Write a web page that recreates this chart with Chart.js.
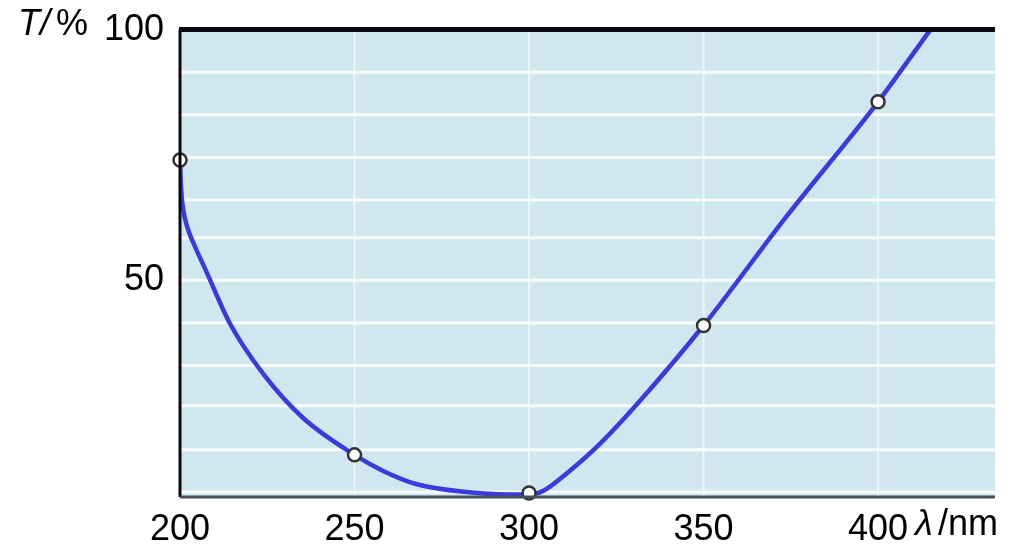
<!DOCTYPE html>
<html>
<head>
<meta charset="utf-8">
<script src="https://cdn.jsdelivr.net/npm/chart.js@4/dist/chart.umd.min.js"></script>
<style>
  html, body { margin: 0; padding: 0; background: #fff; overflow: hidden; }
  canvas { display: block; }
</style>
</head>
<body>
<canvas id="tChart" width="1028" height="547"></canvas>
<script>
// wavelength (nm) and transmittance (%)
const markerX = [200, 250, 300, 350, 400];
const markerT = [74, 15.2, 7.6, 41, 85.6];

// extra points along the drawn curve (no marker)
const curveX = [200, 200.3, 200.9, 202, 204, 207.4, 214.3, 223.8, 235.2, 250, 258.2, 267.6, 282, 294, 300, 304, 310.6, 320.3, 331.8, 350, 373.6, 400, 415];
const curveT = [74, 68.5, 64.2, 60.8, 57.2, 52, 41.4, 31.4, 22.6, 15.2, 12, 9.4, 7.8, 7.3, 7.3, 8, 11.4, 17.4, 26, 41, 62.6, 85.6, 100];

const xTicks = [200, 250, 300, 350, 400];
const yTicks = [50, 100];
// white rulings of the paper behind the plot
const paperLines = [91.5, 83, 74.5, 66, 58.5, 50, 41.5, 33, 25, 16.2, 7.8];

const FONT = "'Liberation Sans', Arial, sans-serif";

const paperPlugin = {
    id: 'paper',
    beforeDatasetsDraw(chart) {
        const { ctx, chartArea: a, scales } = chart;
        ctx.save();
        ctx.fillStyle = '#d1e7f0';
        ctx.fillRect(a.left, a.top, a.right - a.left, a.bottom - a.top);
        ctx.strokeStyle = 'rgba(255,255,255,0.85)';
        ctx.lineWidth = 3;
        paperLines.forEach(v => {
            const y = scales.y.getPixelForValue(v);
            ctx.beginPath(); ctx.moveTo(a.left, y); ctx.lineTo(a.right, y); ctx.stroke();
        });
        ctx.strokeStyle = 'rgba(255,255,255,0.6)';
        ctx.lineWidth = 2;
        xTicks.slice(1).forEach(v => {
            const x = scales.x.getPixelForValue(v);
            ctx.beginPath(); ctx.moveTo(x, a.top); ctx.lineTo(x, a.bottom); ctx.stroke();
        });
        ctx.restore();
    },
    afterDatasetsDraw(chart) {
        const { ctx, chartArea: a } = chart;
        ctx.save();
        // frame: top and left in black, bottom dark grey
        ctx.strokeStyle = '#0a0a14';
        ctx.lineWidth = 5;
        ctx.beginPath(); ctx.moveTo(a.left - 1, a.top); ctx.lineTo(a.right, a.top); ctx.stroke();
        ctx.lineWidth = 3;
        ctx.beginPath(); ctx.moveTo(a.left, a.top); ctx.lineTo(a.left, a.bottom); ctx.stroke();
        ctx.strokeStyle = '#4a4f5e';
        ctx.beginPath(); ctx.moveTo(a.left, a.bottom); ctx.lineTo(a.right, a.bottom); ctx.stroke();
        ctx.restore();
    },
    afterDraw(chart) {
        const { ctx } = chart;
        ctx.save();
        ctx.fillStyle = '#000';
        ctx.textBaseline = 'middle';
        ctx.font = 'italic 36px ' + FONT;
        ctx.fillText('T', 18, 25);
        ctx.fillText('/', 40, 25);
        ctx.font = '36px ' + FONT;
        ctx.fillText('%', 56, 25);
        ctx.font = 'italic 36px ' + FONT;
        ctx.fillText('\u03bb', 915, 525);
        ctx.font = '36px ' + FONT;
        ctx.fillText('/nm', 938, 525);
        ctx.restore();
    }
};

const ctx = document.getElementById('tChart').getContext('2d');
new Chart(ctx, {
    type: 'scatter',
    data: {
        datasets: [{
            data: curveX.map((x, i) => ({ x: x, y: curveT[i] })),
            showLine: true,
            borderColor: '#3a3ade',
            borderWidth: 4.5,
            pointRadius: 0,
            cubicInterpolationMode: 'monotone',
            order: 2
        }, {
            data: markerX.map((x, i) => ({ x: x, y: markerT[i] })),
            showLine: false,
            pointRadius: 6.5,
            pointBackgroundColor: '#ffffff',
            pointBorderColor: '#333333',
            pointBorderWidth: 2.5,
            clip: false,
            order: 1
        }]
    },
    options: {
        responsive: false,
        animation: false,
        events: [],
        layout: { padding: { top: 27, right: 33, left: 0, bottom: 0 } },
        plugins: { legend: { display: false }, tooltip: { enabled: false } },
        scales: {
            x: {
                type: 'linear',
                min: 200,
                max: 433.5,
                afterBuildTicks: s => { s.ticks = xTicks.map(v => ({ value: v })); },
                afterFit: s => { s.height = 50; },
                grid: { display: false },
                border: { display: false },
                ticks: { color: '#000', padding: 3, maxRotation: 0, minRotation: 0, autoSkip: false, font: { family: FONT, size: 36 } }
            },
            y: {
                min: 6.8,
                max: 100,
                afterBuildTicks: s => { s.ticks = yTicks.map(v => ({ value: v })); },
                afterFit: s => { s.width = 180; },
                grid: { display: false },
                border: { display: false },
                ticks: { color: '#000', padding: 8, autoSkip: false, font: { family: FONT, size: 36 } }
            }
        }
    },
    plugins: [paperPlugin]
});
</script>
</body>
</html>
